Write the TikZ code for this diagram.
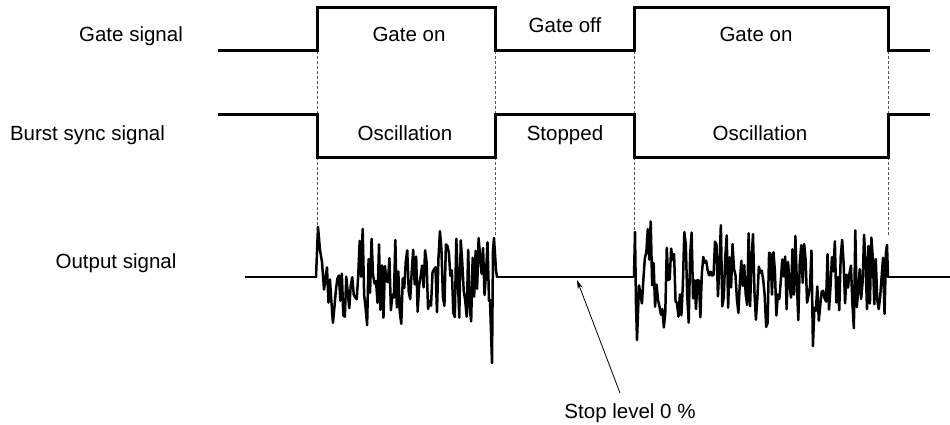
\documentclass[tikz,border=0pt]{standalone}
\usepackage{fontspec}
\setmainfont{Liberation Sans}
\usetikzlibrary{arrows.meta}
\begin{document}
\begin{tikzpicture}[x=1pt,y=-1pt,
  sig/.style={line width=3pt, line join=miter},
  guide/.style={black!65, line width=0.8pt, dash pattern=on 3pt off 2pt},
  lbl/.style={font=\fontsize{20.5}{24}\selectfont, inner sep=0pt, anchor=base},
  noise/.style={line width=2.5pt, line join=round},
  base/.style={line width=2pt},
  pointer/.style={line width=0.8pt, -{Stealth[length=9pt,width=5pt]}}]
\useasboundingbox (0,0) rectangle (950,425);

% transition coordinates
\coordinate (g1) at (317,51);  \coordinate (b1) at (317,115); \coordinate (b1l) at (317,157); \coordinate (o1) at (317,228);
\coordinate (g2) at (495,51);  \coordinate (b2) at (495,115); \coordinate (b2l) at (495,157); \coordinate (o2) at (495,236);
\coordinate (g3) at (634,51);  \coordinate (b3) at (634,115); \coordinate (b3l) at (634,157); \coordinate (o3) at (634,230);
\coordinate (g4) at (888,51);  \coordinate (b4) at (888,115); \coordinate (b4l) at (888,157); \coordinate (o4) at (888,236);

% guides
\foreach \i in {1,2,3,4}{
  \draw[guide] (g\i) -- (b\i);
  \draw[guide] (b\i l) -- (o\i);
}

% gate signal
\draw[sig] (218,51) -- (317,51) -- (317,8) -- (495,8) -- (495,51) -- (634,51) -- (634,8) -- (888,8) -- (888,51) -- (930,51);
% burst sync signal
\draw[sig] (218,115) -- (317,115) -- (317,157) -- (495,157) -- (495,115) -- (634,115) -- (634,157) -- (888,157) -- (888,115) -- (930,115);

% output signal
\pgfmathsetseed{11}
\draw[base] (245,277) -- (317,277);
\draw[noise] (316,277) -- (318,227) -- (320,250) -- (322,262)
  -- plot[domain=324:489, samples=112] (\x,{278+40*rand+16*rand})
  -- (490,300) -- (492,363) -- (493,250) -- (494,238) -- (496,270) -- (497,277);
\draw[base] (496,277) -- (634,277);
\draw[noise] (634,277) -- (635,232) -- (636,305) -- (637,340)
  -- plot[domain=639:886, samples=170] (\x,{278+45*rand+30*rand*abs(rand)})
  -- (887,245) -- (888,277);
\draw[base] (887,277) -- (950,277);

% labels
\node[lbl] (lg) at (131,42) {Gate signal};
\node[lbl] (lb) at (87.5,141) {Burst sync signal};
\node[lbl] (lo) at (116,268) {Output signal};
\node[lbl] (gon1) at (409,42) {Gate on};
\node[lbl] (goff) at (565,33) {Gate off};
\node[lbl] (gon2) at (756,42) {Gate on};
\node[lbl] (osc1) at (405,141) {Oscillation};
\node[lbl] (stp) at (565,141) {Stopped};
\node[lbl] (osc2) at (760,141) {Oscillation};
\node[lbl] (stop) at (630,418) {Stop level 0 \%};

\coordinate (tip) at (577,280);
\coordinate (tail) at (620,393);
\draw[pointer] (tail) -- (tip);
\end{tikzpicture}
\end{document}
